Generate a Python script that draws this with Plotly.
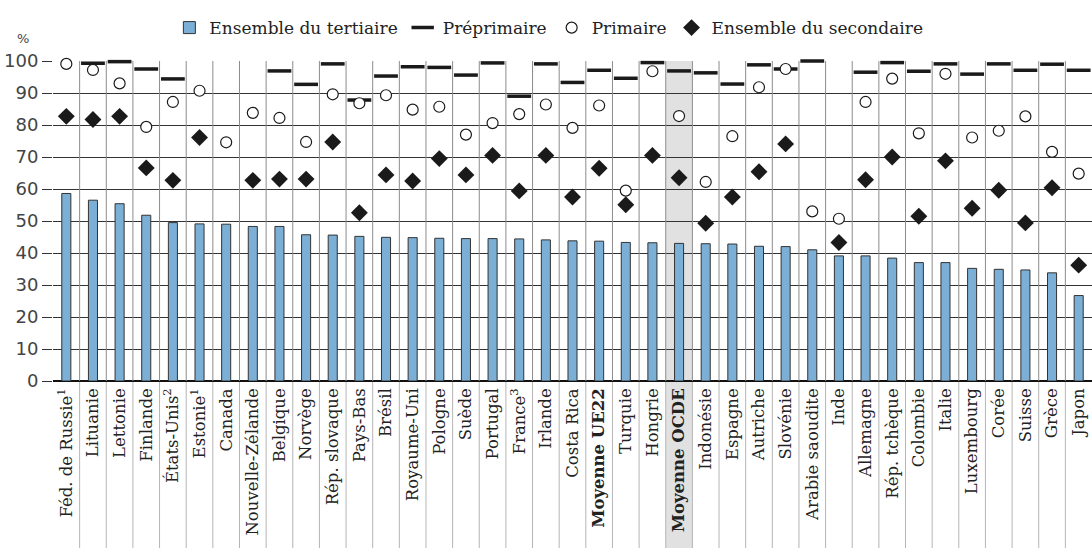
import plotly.graph_objects as go

# Pays / moyennes, dans l'ordre du graphique
pays = ['Féd. de Russie<sup>1</sup>', 'Lituanie', 'Lettonie', 'Finlande', 'États-Unis<sup>2</sup>',
        'Estonie<sup>1</sup>', 'Canada', 'Nouvelle-Zélande', 'Belgique', 'Norvège', 'Rép. slovaque',
        'Pays-Bas', 'Brésil', 'Royaume-Uni', 'Pologne', 'Suède', 'Portugal', 'France<sup>3</sup>',
        'Irlande', 'Costa Rica', '<b>Moyenne UE22</b>', 'Turquie', 'Hongrie', '<b>Moyenne OCDE</b>',
        'Indonésie', 'Espagne', 'Autriche', 'Slovénie', 'Arabie saoudite', 'Inde', 'Allemagne',
        'Rép. tchèque', 'Colombie', 'Italie', 'Luxembourg', 'Corée', 'Suisse', 'Grèce', 'Japon']

tertiaire = [58.6, 56.5, 55.4, 51.8, 49.5, 49.1, 49.0, 48.3, 48.3, 45.7, 45.6, 45.2,
             44.9, 44.8, 44.6, 44.5, 44.5, 44.4, 44.1, 43.8, 43.7, 43.3, 43.2, 43.0, 42.9,
             42.8, 42.1, 42.0, 41.0, 39.1, 39.1, 38.4, 37.0, 37.0, 35.2, 34.9, 34.7, 33.8, 26.7]

preprimaire = [None, 99.3, 99.8, 97.5, 94.4, None, None, None, 96.9, 92.7, 99.1, 87.8,
               95.3, 98.2, 98.0, 95.6, 99.4, 89.0, 99.1, 93.3, 97.1, 94.6, 99.5, 96.9, 96.3,
               92.8, 98.8, 97.5, 100.0, None, 96.5, 99.5, 96.8, 99.1, 95.9, 99.1, 97.1, 99.0, 97.1]

primaire = [99.1, 97.2, 93.0, 79.4, 87.2, 90.7, 74.6, 83.8, 82.2, 74.7, 89.6, 86.8,
            89.3, 84.8, 85.7, 77.0, 80.6, 83.4, 86.4, 79.1, 86.1, 59.5, 96.8, 82.8, 62.2,
            76.5, 91.8, 97.5, 53.0, 50.7, 87.2, 94.5, 77.4, 96.0, 76.1, 78.2, 82.7, 71.6, 64.8]

secondaire = [82.7, 81.7, 82.7, 66.6, 62.7, 76.1, None, 62.7, 63.1, 63.1, 74.7, 52.6,
              64.4, 62.5, 69.5, 64.4, 70.5, 59.4, 70.5, 57.5, 66.5, 55.1, 70.5, 63.5, 49.3,
              57.5, 65.4, 74.1, None, 43.3, 62.9, 70.0, 51.5, 68.8, 54.0, 59.6, 49.4, 60.4, 36.2]

y_ticks = [0, 10, 20, 30, 40, 50, 60, 70, 80, 90, 100]

x = list(range(len(pays)))
serif = 'DejaVu Serif'

fig = go.Figure()

fig.add_trace(go.Bar(x=x, y=tertiaire, name='Ensemble du tertiaire', width=0.34,
                     marker=dict(color='#7bafd6', line=dict(color='#333333', width=1))))
fig.add_trace(go.Scatter(x=x, y=preprimaire, name='Préprimaire', mode='markers', cliponaxis=False,
                         marker=dict(symbol='line-ew', size=17, line=dict(color='#1a1a1a', width=3.5))))
fig.add_trace(go.Scatter(x=x, y=primaire, name='Primaire', mode='markers', cliponaxis=False,
                         marker=dict(symbol='circle', size=11, color='white',
                                     line=dict(color='#1a1a1a', width=1.2))))
fig.add_trace(go.Scatter(x=x, y=secondaire, name='Ensemble du secondaire', mode='markers',
                         cliponaxis=False,
                         marker=dict(symbol='diamond', size=13, color='#1a1a1a')))

# fond gris de la moyenne OCDE + séparateurs entre pays
bottom = -167 / 320
shapes = [dict(type='rect', xref='x', yref='paper', x0=22.5, x1=23.5, y0=bottom, y1=1,
               fillcolor='#e1e1e1', line=dict(width=0), layer='below')]
for i in range(len(pays) - 1):
    shapes.append(dict(type='line', xref='x', yref='y', x0=i + 0.5, x1=i + 0.5, y0=0, y1=100,
                       line=dict(color='#8c8c8c', width=1), layer='between'))
    shapes.append(dict(type='line', xref='x', yref='paper', x0=i + 0.5, x1=i + 0.5, y0=bottom, y1=0,
                       line=dict(color='#b5b5b5', width=1), layer='below'))

fig.update_layout(
    width=1092, height=548,
    margin=dict(l=53, r=0, t=61, b=167),
    paper_bgcolor='white', plot_bgcolor='rgba(0,0,0,0)',
    shapes=shapes,
    showlegend=True,
    legend=dict(orientation='h', x=0.112, y=1.103, xanchor='left', yanchor='middle',
                font=dict(family=serif, size=17, color='#222'), itemwidth=30,
                bgcolor='rgba(0,0,0,0)'),
    xaxis=dict(range=[-0.5, 38.5], tickmode='array', tickvals=x, ticktext=pays, tickangle=-90,
               showgrid=False, zeroline=False, showline=False, ticks='', ticklabelstandoff=3,
               tickfont=dict(family=serif, size=16.5, color='#222')),
    yaxis=dict(range=[0, 100], tickvals=y_ticks, showgrid=True, gridcolor='#333333', gridwidth=1,
               zeroline=True, zerolinecolor='#111', zerolinewidth=1.5,
               ticks='outside', ticklen=10, tickcolor='#333333',
               tickfont=dict(family='DejaVu Sans', size=18, color='#444'),
               showline=False),
    annotations=[dict(text='%', xref='paper', yref='paper', x=-0.029, y=1.069,
                      xanchor='center', yanchor='middle', showarrow=False,
                      font=dict(family='DejaVu Sans', size=13, color='#444'))],
    bargap=0.5,
)

fig.write_html('out.html', config={'displayModeBar': False},
               post_script="document.body.style.margin='0';")
